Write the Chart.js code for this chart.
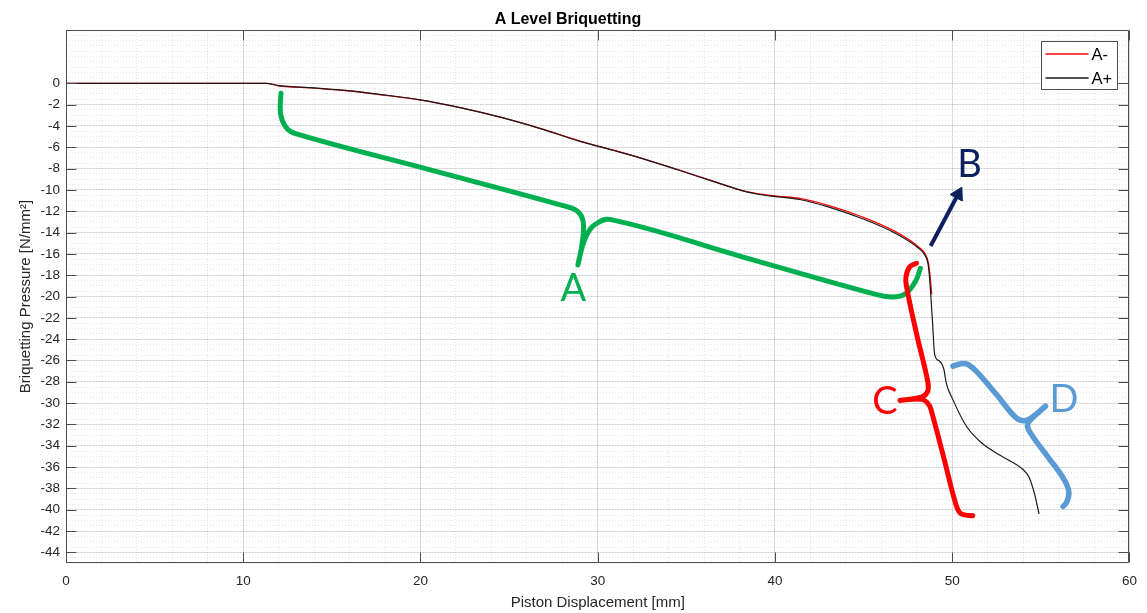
<!DOCTYPE html>
<html>
<head>
<meta charset="utf-8">
<title>A Level Briquetting</title>
<script src="https://cdn.jsdelivr.net/npm/chart.js@4.4.1/dist/chart.umd.min.js"></script>
<style>
  html, body { margin: 0; padding: 0; background: #fff; }
  canvas { display: block; }
</style>
</head>
<body>
<canvas id="briq" width="1147" height="613"></canvas>
<script>
// A- run: piston displacement [mm] and pressure [N/mm²]
const dispMinus = [0, 11.3, 12.0, 14.0, 15.9, 17.8, 20.0, 22.3, 24.5, 26.8, 29.0, 30.9, 32.8, 34.6, 36.5, 38.4, 39.1, 40.2, 41.4, 43.0, 44.9, 46.8, 48.1, 48.47, 48.66, 48.77, 48.84];
const pressMinus = [0, 0, -0.23, -0.45, -0.7, -1.08, -1.57, -2.3, -3.17, -4.25, -5.42, -6.28, -7.2, -8.14, -9.18, -10.17, -10.38, -10.6, -10.8, -11.45, -12.52, -13.92, -15.35, -16.0, -16.9, -18.44, -19.8];

// A+ run
const dispPlus = [0, 11.3, 12.0, 14.0, 15.9, 17.8, 20.0, 22.3, 24.5, 26.8, 29.0, 30.9, 32.8, 34.6, 36.5, 38.4, 39.1, 40.2, 41.4, 43.0, 44.9, 46.8, 48.1, 48.45, 48.63, 48.73, 48.88, 49.01, 49.29, 49.53, 49.66, 50.03, 50.79, 51.63, 52.75, 53.97, 54.34, 54.62, 54.9];
const pressPlus = [0, 0, -0.21, -0.43, -0.68, -1.06, -1.55, -2.3, -3.18, -4.27, -5.45, -6.3, -7.2, -8.16, -9.2, -10.19, -10.43, -10.65, -10.9, -11.59, -12.68, -14.08, -15.48, -16.1, -16.9, -18.44, -22.2, -25.45, -26.07, -26.85, -28.1, -29.65, -32.15, -33.7, -34.95, -36.2, -36.97, -38.37, -40.4];

// hand-drawn phase markers, in axis units (null breaks the stroke at the brace tip)
const braceAx = [12.13, 12.1, 12.4, 12.95, 20.5, 28.1, 28.85, 29.18, 29.12, 28.88, 28.88, 28.88, 29.15, 29.45, 29.8, 30.69, 38.2, 45.8, 46.7, 47.4, 47.95, 48.2];
const braceAy = [-0.93, -2.8, -4.1, -4.73, -8.1, -11.5, -12.0, -13.0, -15.0, -17.04, null, -17.04, -15.2, -14.0, -13.3, -12.77, -16.3, -19.85, -20.05, -19.7, -18.5, -17.35];
const braceCx = [47.98, 47.61, 47.39, 47.42, 48.0, 48.63, 48.6, 48.25, 47.05, 47.05, 47.05, 48.3, 48.7, 48.85, 49.55, 50.23, 50.51, 51.16];
const braceCy = [-16.88, -17.2, -18.13, -19.07, -23.6, -28.09, -28.95, -29.45, -29.75, null, -29.75, -29.65, -30.2, -30.9, -35.3, -39.63, -40.4, -40.56];
const braceDx = [50.04, 50.5, 50.88, 51.35, 52.5, 53.59, 54.1, 54.7, 55.26, 55.26, 55.26, 54.65, 54.25, 54.4, 55.35, 56.3, 56.58, 56.45, 56.25];
const braceDy = [-26.54, -26.3, -26.38, -27.0, -29.2, -31.36, -31.65, -31.1, -30.28, null, -30.28, -31.2, -32.0, -32.77, -34.95, -37.13, -38.37, -39.31, -39.7];
const arrowBx = [48.78, 50.33];
const arrowBy = [-15.26, -10.41];

const markText = ["A", "B", "C", "D"];
const markX = [28.63, 50.97, 46.21, 56.3];
const markY = [-19.28, -7.6, -29.84, -29.65];

const xTicks = [0, 10, 20, 30, 40, 50, 60];
const yTicks = [-44, -42, -40, -38, -36, -34, -32, -30, -28, -26, -24, -22, -20, -18, -16, -14, -12, -10, -8, -6, -4, -2, 0];

const GREEN = "#00b050";
const RED = "#ff0000";
const BLUE = "#5b9bd5";
const NAVY = "#0d1f5c";
const markColors = [GREEN, NAVY, RED, BLUE];
const AXIS = "#262626";
const FONT = "'Liberation Sans', Arial, Helvetica, sans-serif";

function pts(xs, ys) {
  return xs.map((x, i) => ({ x, y: ys[i] }));
}

function minorSteps(lo, hi, step) {
  const out = [];
  for (let v = lo; v <= hi + 1e-9; v += step) out.push({ value: +v.toFixed(3) });
  return out;
}

function strokeSet(label, xs, ys, color, width, order) {
  return {
    label,
    data: pts(xs, ys),
    borderColor: color,
    borderWidth: width,
    borderCapStyle: "round",
    borderJoinStyle: "round",
    pointRadius: 0,
    tension: 0.4,
    spanGaps: false,
    order,
    xAxisID: "x",
    yAxisID: "y",
  };
}

// box around the axes with MATLAB-style inward ticks
const axesFrame = {
  id: "axesFrame",
  afterDatasetsDraw(chart) {
    const { ctx, chartArea: a, scales: { x, y } } = chart;
    const L = Math.round(a.left) + 0.5, R = Math.round(a.right) - 0.5;
    const T = Math.round(a.top) + 0.5, B = Math.round(a.bottom) - 0.5;
    ctx.save();
    ctx.strokeStyle = "#4d4d4d";
    ctx.lineWidth = 1;
    ctx.beginPath();
    for (const t of y.ticks) {
      const py = Math.round(y.getPixelForValue(t.value)) + 0.5;
      ctx.moveTo(L, py); ctx.lineTo(L + 10, py);
      ctx.moveTo(R, py); ctx.lineTo(R - 10, py);
    }
    for (const t of x.ticks) {
      const px = Math.round(x.getPixelForValue(t.value)) + 0.5;
      ctx.moveTo(px, B); ctx.lineTo(px, B - 10);
      ctx.moveTo(px, T); ctx.lineTo(px, T + 10);
    }
    ctx.rect(L, T, R - L, B - T);
    ctx.stroke();
    ctx.restore();
  },
};

// letters naming the phases
const phaseLetters = {
  id: "phaseLetters",
  afterDatasetsDraw(chart) {
    const { ctx, scales: { x, y } } = chart;
    ctx.save();
    ctx.font = "38px Lato, 'Open Sans', sans-serif";
    ctx.textAlign = "center";
    ctx.textBaseline = "middle";
    markText.forEach((t, i) => {
      ctx.fillStyle = markColors[i];
      ctx.fillText(t, x.getPixelForValue(markX[i]), y.getPixelForValue(markY[i]));
    });
    ctx.restore();
  },
};

// boxed legend in the upper right corner of the axes
const boxLegend = {
  id: "boxLegend",
  afterDraw(chart) {
    const { ctx, chartArea: a } = chart;
    const sets = chart.data.datasets.filter((d) => d.inLegend);
    const w = 76, h = 48;
    const left = Math.round(a.right) - 12 - w + 0.5;
    const top = Math.round(a.top) + 11 + 0.5;
    ctx.save();
    ctx.fillStyle = "#fff";
    ctx.fillRect(left, top, w, h);
    ctx.strokeStyle = "#4d4d4d";
    ctx.lineWidth = 1;
    ctx.strokeRect(left, top, w, h);
    ctx.font = "16.5px " + FONT;
    ctx.textBaseline = "middle";
    sets.forEach((d, i) => {
      const cy = top + 12.5 + i * 24;
      ctx.strokeStyle = d.borderColor;
      ctx.lineWidth = 1.3;
      ctx.beginPath();
      ctx.moveTo(left + 4, cy);
      ctx.lineTo(left + 47, cy);
      ctx.stroke();
      ctx.fillStyle = "#000";
      ctx.fillText(d.label, left + 50, cy + 1);
    });
    ctx.restore();
  },
};

new Chart(document.getElementById("briq"), {
  type: "line",
  data: {
    datasets: [
      {
        label: "A-",
        inLegend: true,
        data: pts(dispMinus, pressMinus),
        borderColor: "#ff0000",
        borderWidth: 1.3,
        pointRadius: 0,
        cubicInterpolationMode: "monotone",
        order: 1,
        xAxisID: "x",
        yAxisID: "y",
      },
      {
        label: "A+",
        inLegend: true,
        data: pts(dispPlus, pressPlus),
        borderColor: "#1a1a1a",
        borderWidth: 1.2,
        pointRadius: 0,
        cubicInterpolationMode: "monotone",
        order: 0,
        xAxisID: "x",
        yAxisID: "y",
      },
      strokeSet("phase A", braceAx, braceAy, GREEN, 5, 3),
      strokeSet("phase C", braceCx, braceCy, RED, 5, 2),
      strokeSet("phase D", braceDx, braceDy, BLUE, 5.5, 2),
      {
        ...strokeSet("phase B", arrowBx, arrowBy, NAVY, 4, 2),
        tension: 0,
        borderCapStyle: "butt",
        pointRadius: [0, 8],
        pointStyle: "triangle",
        pointRotation: [0, 28],
        pointBackgroundColor: NAVY,
        pointBorderColor: NAVY,
        pointBorderWidth: 1,
      },
    ],
  },
  options: {
    responsive: false,
    animation: false,
    events: [],
    layout: { padding: { left: 0, right: 11, top: 0, bottom: 0 } },
    font: { family: FONT },
    plugins: {
      legend: { display: false },
      tooltip: { enabled: false },
      title: {
        display: true,
        text: "A Level Briquetting",
        color: "#000",
        font: { family: FONT, size: 16, weight: "bold" },
        padding: { top: 10, bottom: 0.8 },
      },
    },
    scales: {
      xMinor: {
        type: "linear",
        position: "bottom",
        min: 0,
        max: 60,
        z: -1,
        afterBuildTicks: (s) => { s.ticks = minorSteps(0, 60, 2); },
        afterFit: (s) => { s.height = 0; },
        ticks: { display: false },
        grid: { color: "rgba(0,0,0,0.1)", drawTicks: false, lineWidth: 1 },
        border: { display: false, dash: [1, 2] },
      },
      yMinor: {
        type: "linear",
        position: "left",
        min: -45,
        max: 5,
        z: -1,
        afterBuildTicks: (s) => { s.ticks = minorSteps(-45, 5, 0.5); },
        afterFit: (s) => { s.width = 0; },
        ticks: { display: false },
        grid: { color: "rgba(0,0,0,0.1)", drawTicks: false, lineWidth: 1 },
        border: { display: false, dash: [1, 2] },
      },
      x: {
        type: "linear",
        position: "bottom",
        min: 0,
        max: 60,
        afterBuildTicks: (s) => { s.ticks = xTicks.map((v) => ({ value: v })); },
        afterFit: (s) => { s.height = 50; },
        ticks: { color: AXIS, font: { family: FONT, size: 13.5 }, padding: 10, autoSkip: false, maxRotation: 0 },
        grid: { color: "rgba(0,0,0,0.11)", drawTicks: false },
        border: { display: false },
        title: {
          display: true,
          text: "Piston Displacement [mm]",
          color: AXIS,
          font: { family: FONT, size: 15 },
          padding: { top: 0, bottom: 1 },
        },
      },
      y: {
        type: "linear",
        position: "left",
        min: -45,
        max: 5,
        afterBuildTicks: (s) => { s.ticks = yTicks.map((v) => ({ value: v })); },
        afterFit: (s) => { s.width = 66; },
        ticks: { color: AXIS, font: { family: FONT, size: 13.5 }, padding: 6, autoSkip: false },
        grid: { color: "rgba(0,0,0,0.11)", drawTicks: false },
        border: { display: false },
        title: {
          display: true,
          text: "Briquetting Pressure [N/mm²]",
          color: AXIS,
          font: { family: FONT, size: 15 },
          padding: { top: 17, bottom: 0 },
        },
      },
    },
  },
  plugins: [axesFrame, phaseLetters, boxLegend],
});
</script>
</body>
</html>
